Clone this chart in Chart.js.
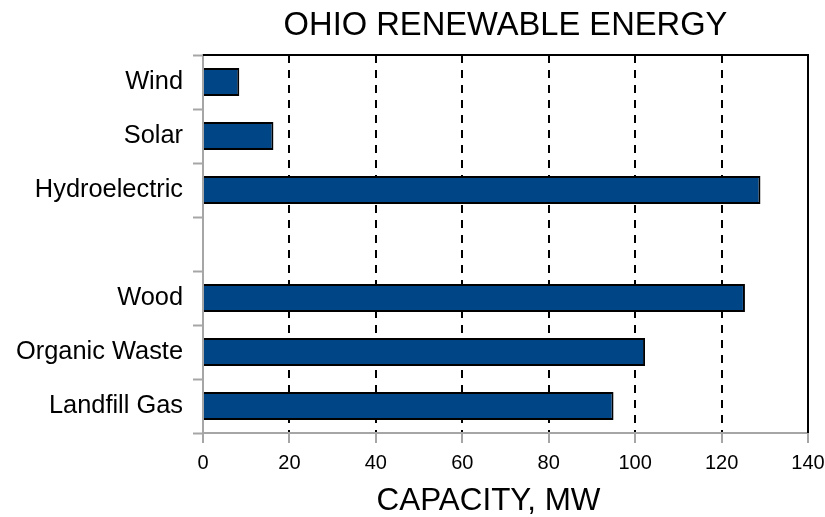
<!DOCTYPE html>
<html>
<head>
<meta charset="utf-8">
<script src="https://cdn.jsdelivr.net/npm/chart.js@4"></script>
<style>
html,body{margin:0;padding:0;background:#fff;}
#wrap{width:825px;height:517px;}
</style>
</head>
<body>
<div id="wrap"><canvas id="c" width="825" height="517"></canvas></div>
<script>
const categories = ["Wind", "Solar", "Hydroelectric", "", "Wood", "Organic Waste", "Landfill Gas"];
const capacityMW = [8.4, 16.3, 129, null, 125.4, 102.3, 95];
const xTicks = [0, 20, 40, 60, 80, 100, 120, 140];
const chartTitle = "OHIO RENEWABLE ENERGY";
const xAxisTitle = "CAPACITY, MW";

const FONT = "'Liberation Sans', Arial, sans-serif";

const decor = {
  id: 'decor',
  afterDraw(chart) {
    const ctx = chart.ctx;
    const a = chart.chartArea;
    ctx.save();
    // bottom axis line (grey)
    ctx.strokeStyle = '#a6a6a6';
    ctx.lineWidth = 2;
    ctx.setLineDash([]);
    ctx.beginPath();
    ctx.moveTo(a.left, a.bottom);
    ctx.lineTo(a.right, a.bottom);
    ctx.stroke();
    // top and right frame
    ctx.strokeStyle = '#000';
    ctx.lineWidth = 2;
    ctx.beginPath();
    ctx.moveTo(a.left, a.top);
    ctx.lineTo(a.right, a.top);
    ctx.lineTo(a.right, a.bottom);
    ctx.stroke();
    // titles
    ctx.fillStyle = '#000';
    ctx.textAlign = 'center';
    ctx.textBaseline = 'alphabetic';
    ctx.font = '32.7px ' + FONT;
    ctx.fillText(chartTitle, (a.left + a.right) / 2, 35);
    ctx.font = '31.4px ' + FONT;
    ctx.fillText(xAxisTitle, (a.left + a.right) / 2 - 17, 510);
    ctx.restore();
  }
};

new Chart(document.getElementById('c'), {
  type: 'bar',
  data: {
    labels: categories,
    datasets: [{
      data: capacityMW,
      backgroundColor: '#004586',
      borderColor: '#000',
      borderWidth: 2,
      barPercentage: 0.52,
      categoryPercentage: 1.0
    }]
  },
  options: {
    indexAxis: 'y',
    responsive: false,
    animation: false,
    devicePixelRatio: 1,
    layout: { padding: { top: 55, left: 0, right: 0, bottom: 0 } },
    plugins: {
      legend: { display: false },
      title: { display: false },
      tooltip: { enabled: false }
    },
    scales: {
      x: {
        type: 'linear',
        min: 0,
        max: 140,
        afterBuildTicks(scale) { scale.ticks = xTicks.map(v => ({ value: v })); },
        afterFit(scale) {
          scale.height = 517 - 433;
          scale.paddingRight = 17;
          scale.paddingLeft = 0;
        },
        grid: {
          color: (c) => (c.tick && (c.tick.value === 0 || c.tick.value === 140)) ? 'rgba(0,0,0,0)' : '#000',
          lineWidth: 2,
          tickBorderDash: [],
          tickColor: '#a6a6a6',
          tickWidth: 2,
          tickLength: 10,
          drawTicks: true
        },
        border: { display: false, dash: [8, 7] },
        ticks: {
          color: '#000',
          font: { family: FONT, size: 20 },
          padding: 8,
          maxRotation: 0,
          autoSkip: false
        }
      },
      y: {
        afterFit(scale) { scale.width = 203; },
        grid: {
          drawOnChartArea: false,
          drawTicks: true,
          tickLength: 10,
          tickColor: '#a6a6a6',
          tickWidth: 2,
          offset: true
        },
        border: { display: true, color: '#a6a6a6', width: 2 },
        ticks: {
          color: '#000',
          font: { family: FONT, size: 25.4 },
          padding: 10,
          autoSkip: false
        }
      }
    }
  },
  plugins: [decor]
});
</script>
</body>
</html>
